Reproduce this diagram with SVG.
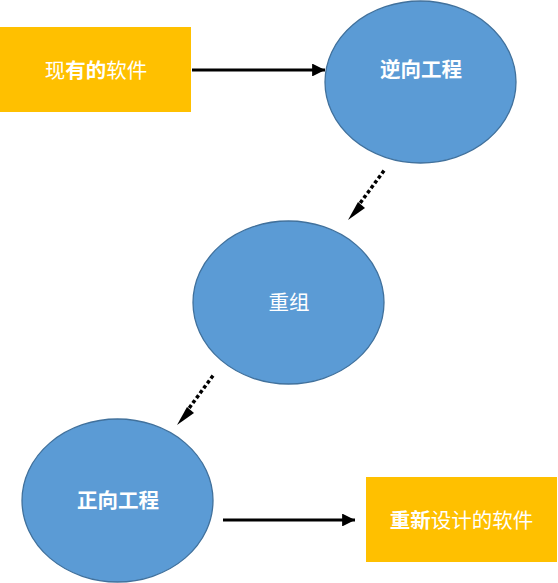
<svg xmlns="http://www.w3.org/2000/svg" width="558" height="583" viewBox="0 0 558 583">
<style>
.box{fill:#FFC000}
.ell{fill:#5B9BD5;stroke:#41719C;stroke-width:1.3}
.t{font-family:"Noto Sans CJK SC","Liberation Sans",sans-serif;font-size:20.5px;fill:#fff;text-anchor:middle;dominant-baseline:central}
.b{font-weight:bold}
.solid{stroke:#000;stroke-width:3;fill:none}
.dot{stroke:#000;stroke-width:3.5;fill:none;stroke-dasharray:0.1 6;stroke-linecap:square}
</style>
<defs>
<marker id="ah" viewBox="0 0 10 10" refX="10" refY="5" markerWidth="4.3" markerHeight="4.3" markerUnits="strokeWidth" orient="auto">
<path d="M0,0 L10,5 L0,10 z" fill="#000"/>
</marker>
</defs>
<g id="connectors">
<line class="solid" x1="192" y1="70" x2="325" y2="70" marker-end="url(#ah)"/>
<line class="dot" x1="383" y1="172" x2="358" y2="206"/>
<path d="M358,202 L348,220 L365,208 z" fill="#000"/>
<line class="dot" x1="212" y1="377" x2="187" y2="411"/>
<path d="M187,407 L177,425 L194,413 z" fill="#000"/>
<line class="solid" x1="223" y1="520" x2="355" y2="520" marker-end="url(#ah)"/>
</g>
<g id="node-existing">
<rect class="box" x="0" y="27" width="191" height="85"/>
<text class="t" x="96" y="69">现<tspan class="b">有的</tspan>软件</text>
</g>
<g id="node-reverse">
<ellipse class="ell" cx="420.5" cy="82" rx="95.5" ry="81"/>
<text class="t b" x="421" y="68">逆向工程</text>
</g>
<g id="node-restructure">
<ellipse class="ell" cx="288.5" cy="302.5" rx="95.5" ry="81.5"/>
<text class="t" x="289" y="301">重组</text>
</g>
<g id="node-forward">
<ellipse class="ell" cx="117.5" cy="500.5" rx="95.5" ry="81.5"/>
<text class="t b" x="118" y="499">正向工程</text>
</g>
<g id="node-new">
<rect class="box" x="366" y="477" width="191" height="85"/>
<text class="t" x="461.5" y="519"><tspan class="b">重新</tspan>设计的软件</text>
</g>
</svg>
